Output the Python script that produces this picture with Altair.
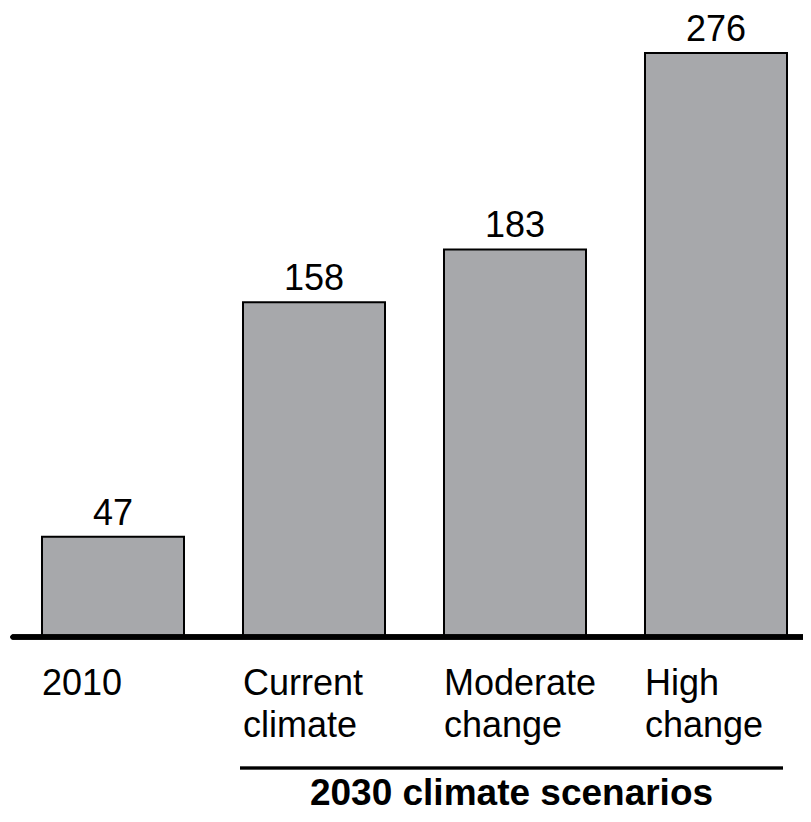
import altair as alt
import pandas as pd

categories = ["2010", "Current climate", "Moderate change", "High change"]
values = [47, 158, 183, 276]
label_line1 = ["2010", "Current", "Moderate", "High"]
label_line2 = ["", "climate", "change", "change"]
group_title = "2030 climate scenarios"

df = pd.DataFrame({
    "cat": categories,
    "value": values,
    "line1": label_line1,
    "line2": label_line2,
})

FONT = "Liberation Sans"

x_scale = alt.Scale(domain=categories, range=[4.5, 808.5], paddingInner=0.2935, paddingOuter=0.14675)
y_scale = alt.Scale(domain=[0, 276], range=[628, 45], nice=False, zero=True)

base = alt.Chart(df)

bars = base.mark_bar(fill="#A7A8AB", stroke="#000000", strokeWidth=2).encode(
    x=alt.X("cat:N", scale=x_scale, axis=None, sort=categories),
    y=alt.Y("value:Q", scale=y_scale, axis=None),
)

value_labels = base.mark_text(
    font=FONT, fontSize=36, color="#000000", dy=-12, baseline="alphabetic", align="center"
).encode(
    x=alt.X("cat:N", scale=x_scale, axis=None, sort=categories),
    y=alt.Y("value:Q", scale=y_scale, axis=None),
    text="value:Q",
)

cat_line1 = base.mark_text(
    font=FONT, fontSize=36, color="#000000", baseline="alphabetic", align="left"
).encode(
    x=alt.X("cat:N", scale=x_scale, axis=None, sort=categories, bandPosition=0),
    y=alt.value(687),
    text="line1:N",
)

cat_line2 = base.mark_text(
    font=FONT, fontSize=36, color="#000000", baseline="alphabetic", align="left"
).encode(
    x=alt.X("cat:N", scale=x_scale, axis=None, sort=categories, bandPosition=0),
    y=alt.value(729),
    text="line2:N",
)

baseline_rule = base.mark_rule(color="#000000", strokeWidth=5, strokeCap="round").encode(
    x=alt.value(5), x2=alt.value(800), y=alt.value(629)
)

group_rule = base.mark_rule(color="#000000", strokeWidth=2.5).encode(
    x=alt.value(232), x2=alt.value(775), y=alt.value(760)
)

title_text = alt.Chart(pd.DataFrame({"t": [group_title]})).mark_text(
    font=FONT, fontSize=37, fontWeight="bold", color="#000000", baseline="alphabetic", align="center"
).encode(
    x=alt.value(503.5), y=alt.value(797), text="t:N"
)

chart = alt.layer(
    bars, baseline_rule, value_labels, cat_line1, cat_line2, group_rule, title_text
).properties(
    width=795, height=806, padding=0,
    autosize=alt.AutoSizeParams(type="none"),
).configure_view(stroke=None)

chart.save("out.html", embed_options={"renderer": "svg", "actions": False})
